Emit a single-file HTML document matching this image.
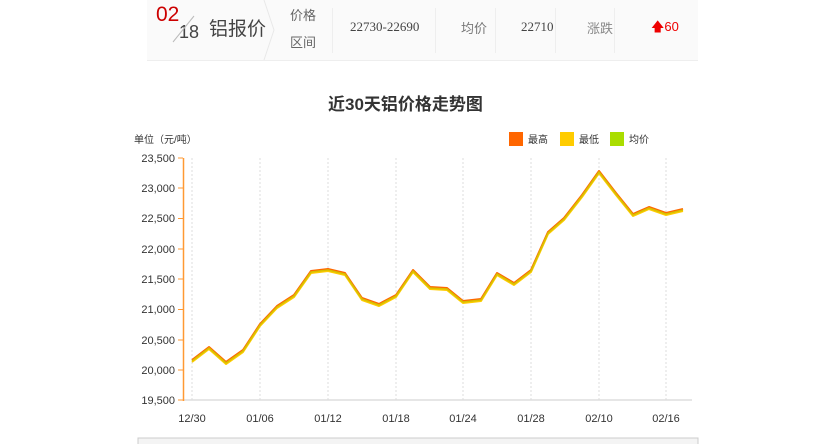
<!DOCTYPE html>
<html><head><meta charset="utf-8"><style>
body{margin:0;width:825px;height:444px;background:#fff;font-family:"Liberation Sans","Noto Sans CJK SC",sans-serif;overflow:hidden;position:relative}
.hdr{position:absolute;left:147px;top:0;width:551px;height:60px;background:#fafafa;border-bottom:1px solid #eee}
.t{position:absolute;white-space:nowrap}
.sep{position:absolute;top:8px;width:1px;height:45px;background:#eee}
</style></head><body>
<div class="hdr">
<div class="t" style="left:9px;top:3px;font-size:21px;color:#c00">02</div>
<div class="t" style="left:32px;top:22px;font-size:18px;color:#444">18</div>
<svg style="position:absolute;left:22px;top:14px" width="30" height="30"><line x1="25" y1="2" x2="4" y2="28" stroke="#bbb"/></svg>
<div class="t" style="left:62px;top:14px;font-size:19px;color:#444">铝报价</div>
<svg style="position:absolute;left:115px;top:0" width="16" height="60"><polyline points="2,0 12,30 2,60" fill="none" stroke="#e8e8e8"/></svg>
<div class="t" style="left:143px;top:5px;font-size:13px;color:#666">价格</div>
<div class="t" style="left:143px;top:32px;font-size:13px;color:#666">区间</div>
<div class="sep" style="left:185px"></div>
<div class="t" style="left:203px;top:19px;font-size:13px;color:#444;font-family:'Liberation Serif',serif">22730-22690</div>
<div class="sep" style="left:288px"></div>
<div class="t" style="left:314px;top:18px;font-size:13px;color:#777">均价</div>
<div class="sep" style="left:348px"></div>
<div class="t" style="left:374px;top:19px;font-size:13px;color:#444;font-family:'Liberation Serif',serif">22710</div>
<div class="sep" style="left:408px"></div>
<div class="t" style="left:440px;top:18px;font-size:13px;color:#888">涨跌</div>
<div class="sep" style="left:467px"></div>
<div class="t" style="left:504px;top:18px;font-size:13px;color:#e00">&#129093;60</div>
</div>
<div class="t" style="left:328px;top:90px;font-size:17px;font-weight:bold;color:#333">近30天铝价格走势图</div>
<div class="t" style="left:134px;top:131px;font-size:10px;color:#333">单位（元/吨）</div>
<svg style="position:absolute;left:0;top:0" width="825" height="444" font-family="Liberation Sans, sans-serif">
<g stroke="#ddd" stroke-dasharray="2,2">
<line x1="192" y1="158" x2="192" y2="400"/><line x1="260" y1="158" x2="260" y2="400"/><line x1="328" y1="158" x2="328" y2="400"/><line x1="396" y1="158" x2="396" y2="400"/><line x1="463" y1="158" x2="463" y2="400"/><line x1="531" y1="158" x2="531" y2="400"/><line x1="599" y1="158" x2="599" y2="400"/><line x1="666" y1="158" x2="666" y2="400"/>
</g>
<line x1="183" y1="400" x2="692" y2="400" stroke="#ddd" stroke-width="1.5"/>
<line x1="183.5" y1="158" x2="183.5" y2="401" stroke="#f93" stroke-width="1.5"/>
<g stroke="#f93"><line x1="178" y1="158" x2="183" y2="158"/><line x1="178" y1="188" x2="183" y2="188"/><line x1="178" y1="218.5" x2="183" y2="218.5"/><line x1="178" y1="249" x2="183" y2="249"/><line x1="178" y1="279" x2="183" y2="279"/><line x1="178" y1="309.5" x2="183" y2="309.5"/><line x1="178" y1="340" x2="183" y2="340"/><line x1="178" y1="370" x2="183" y2="370"/><line x1="178" y1="400" x2="183" y2="400"/></g>
<g font-size="11" fill="#333" text-anchor="end">
<text x="175" y="162">23,500</text><text x="175" y="192">23,000</text><text x="175" y="222">22,500</text><text x="175" y="253">22,000</text><text x="175" y="283">21,500</text><text x="175" y="313">21,000</text><text x="175" y="344">20,500</text><text x="175" y="374">20,000</text><text x="175" y="404">19,500</text>
</g>
<g font-size="11" fill="#333" text-anchor="middle">
<text x="192" y="422">12/30</text><text x="260" y="422">01/06</text><text x="328" y="422">01/12</text><text x="396" y="422">01/18</text><text x="463" y="422">01/24</text><text x="531" y="422">01/28</text><text x="599" y="422">02/10</text><text x="666" y="422">02/16</text>
</g>
<g fill="none" stroke-width="2" stroke-linejoin="round">
<polyline stroke="#f60" transform="translate(0,-1)" points="192,361 209,348 226,363 243,351 260,325 277,307 294,296 311,272 328,270 345,274 362,299 379,305 396,296 413,271 430,288 447,289 463,302 481,300 497,274 514,284 531,271 548,233 564,219 582,196 599,172 616,194 633,215 649,208 666,214 683,210"/>
<polyline stroke="#fc0" transform="translate(0,1)" points="192,361 209,348 226,363 243,351 260,325 277,307 294,296 311,272 328,270 345,274 362,299 379,305 396,296 413,271 430,288 447,289 463,302 481,300 497,274 514,284 531,271 548,233 564,219 582,196 599,172 616,194 633,215 649,208 666,214 683,210"/>
<polyline stroke="#d8c000" stroke-width="1.6" points="192,361 209,348 226,363 243,351 260,325 277,307 294,296 311,272 328,270 345,274 362,299 379,305 396,296 413,271 430,288 447,289 463,302 481,300 497,274 514,284 531,271 548,233 564,219 582,196 599,172 616,194 633,215 649,208 666,214 683,210"/>
</g>
<rect x="509" y="132" width="14" height="14" fill="#f60"/><text x="528" y="143" font-size="10" fill="#333">最高</text>
<rect x="560" y="132" width="14" height="14" fill="#fc0"/><text x="579" y="143" font-size="10" fill="#333">最低</text>
<rect x="610" y="132" width="14" height="14" fill="#ad0"/><text x="629" y="143" font-size="10" fill="#333">均价</text>
<rect x="138" y="438" width="560" height="10" fill="#f4f4f4" stroke="#ccc"/>
</svg>
</body></html>
